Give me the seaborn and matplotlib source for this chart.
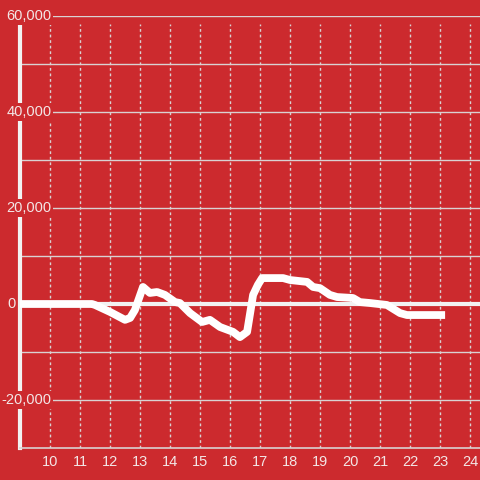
import pandas as pd
import matplotlib.pyplot as plt
import matplotlib.transforms as mtransforms
import seaborn as sns

# Data (hour of day vs value)
hours = [9.00, 11.40, 11.50, 12.00, 12.50, 12.67, 12.83, 13.10, 13.33, 13.57,
         13.83, 14.17, 14.33, 14.67, 15.07, 15.33, 15.67, 16.10, 16.33, 16.57,
         16.77, 16.93, 17.07, 17.77, 18.00, 18.57, 18.77, 19.00, 19.33, 19.57,
         20.10, 20.33, 20.67, 21.23, 21.67, 21.90, 23.17]
values = [0, 0, -200, -1650, -3300, -2900, -1250, 3550, 2300, 2500,
          1900, 400, 200, -1900, -3750, -3300, -4800, -5800, -6900, -5800,
          1900, 4000, 5400, 5400, 5000, 4600, 3550, 3300, 1900, 1450,
          1250, 400, 200, -200, -1900, -2300, -2300]
x_ticks = list(range(10, 25))
y_ticks = [-20000, 0, 20000, 40000, 60000]
y_labels = ['-20,000', '0', '20,000', '40,000', '60,000']

df = pd.DataFrame({'hour': hours, 'value': values})

bg = '#cc2a2e'
fg = '#f3e6e6'
grid_col = '#d9d2d2'

sns.set_style('white', {'axes.facecolor': bg, 'figure.facecolor': bg})
plt.rcParams['font.family'] = ['Liberation Sans', 'DejaVu Sans']

fig = plt.figure(figsize=(4.8, 4.8), dpi=100)
ax = fig.add_axes([20 / 480, 32 / 480, 460 / 480, 432 / 480])
ax.set_facecolor(bg)

ax.set_xlim(9, 24 + 1 / 3)
ax.set_ylim(-30000, 60000)

# grid
for v in range(-20000, 60001, 10000):
    ax.axhline(v, color=grid_col, lw=1, zorder=1)
for h in x_ticks:
    ax.axvline(h, ymax=0.981, color=grid_col, lw=1, ls=(0, (2, 2)), zorder=1)
ax.axhline(0, color='#f2f2f2', lw=3, zorder=2)

sns.lineplot(data=df, x='hour', y='value', ax=ax, color='white', lw=5.6,
             solid_capstyle='butt', zorder=3)

# spines
for s in ['top', 'right']:
    ax.spines[s].set_visible(False)
ax.spines['bottom'].set_color(grid_col)
ax.spines['bottom'].set_linewidth(1.2)
ax.spines['left'].set_color('#f2f2f2')
ax.spines['left'].set_linewidth(3)
ax.spines['left'].set_bounds(-30000, 58300)

ax.set_xticks(x_ticks)
ax.set_xticklabels([str(t) for t in x_ticks])
ax.tick_params(axis='x', length=0, pad=5, labelsize=10.5, labelcolor=fg)
ax.set_yticks([])
ax.set_xlabel('')
ax.set_ylabel('')

# y labels sit on top of the plot with a red box behind them
trans = mtransforms.blended_transform_factory(ax.transAxes, ax.transData)
for v, lab in zip(y_ticks, y_labels):
    if v == 0:
        ax.text(-0.01, v, lab, transform=trans, ha='right', va='center',
                fontsize=10.5, color=fg, zorder=5, clip_on=False)
    else:
        ax.text(0.068, v, lab, transform=trans, ha='right', va='center',
                fontsize=10.5, color=fg, zorder=5, clip_on=False,
                bbox=dict(facecolor=bg, edgecolor='none', pad=1.5))

fig.savefig('out.png', dpi=100, facecolor=bg)
